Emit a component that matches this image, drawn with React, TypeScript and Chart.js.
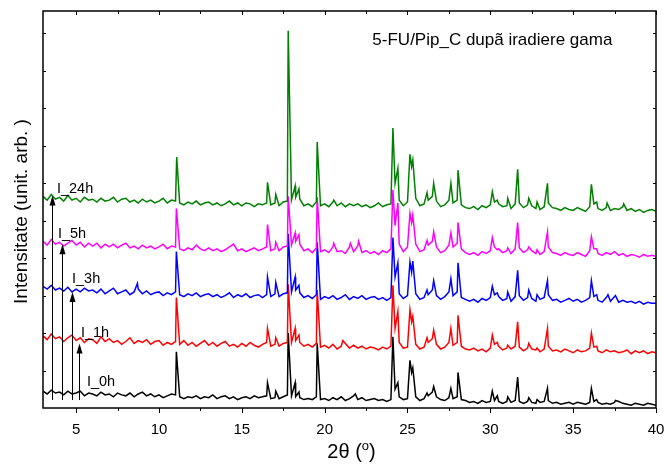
import React, { useEffect, useRef } from "react";
import { Chart, registerables } from "chart.js";

Chart.register(...registerables);

// ---- axis data ----
const angleMin = 3;
const angleMax = 40;
const levelMin = 0;
const levelMax = 424;
const xTickValues = [5, 10, 15, 20, 25, 30, 35, 40];
const xMinorTickValues = [7.5, 12.5, 17.5, 22.5, 27.5, 32.5, 37.5];
const yTickValues = [40, 80, 120, 160, 200, 240, 280, 320, 360, 400];

// baseline samples: 2θ = 3.00, 3.25, ... 40.00 (one row per degree)
const sampleStart = 3;
const sampleStep = 0.25;

const base0h = [
  18, 15, 19, 16,
  17, 14, 18, 15,
  16, 18, 13, 16,
  15, 13, 17, 14,
  15, 12, 16, 14,
  13, 16, 12, 15,
  17, 13, 15, 12,
  14, 11, 13, 15,
  14, 12, 10, 12,
  11, 13, 10, 12,
  11, 14, 10, 12,
  13, 10, 12, 9,
  11, 12, 10, 13,
  11, 12, 13, 10,
  11, 10, 12, 14,
  13, 12, 11, 9,
  10, 9, 12, 9,
  10, 8, 11, 9,
  12, 8, 10, 13,
  9, 11, 8, 9,
  10, 8, 9, 7,
  9, 20, 12, 9,
  10, 38, 12, 8,
  10, 13, 17, 12,
  9, 8, 11, 10,
  12, 9, 8, 6,
  7, 5, 8, 6,
  7, 8, 7, 5,
  7, 6, 8, 7,
  5, 7, 6, 5,
  6, 7, 8, 5,
  6, 4, 5, 6,
  4, 6, 5, 4,
  6, 7, 6, 4,
  5, 4, 6, 7,
  5, 4, 3, 5,
  4, 3, 5, 4,
  3,
];
const peaks0h = [
  [11.05, 60], [16.55, 27], [17.05, 18], [17.8, 80], [18.22, 27], [18.45, 17],
  [19.55, 69], [21.85, 15], [24.12, 76], [24.42, 27], [25.15, 51], [25.32, 43],
  [26.18, 16], [26.58, 23], [27.62, 21], [28.05, 38], [30.12, 18], [30.42, 13],
  [31.05, 12], [31.65, 33], [32.32, 11], [32.82, 9], [33.45, 21], [36.1, 21],
  [36.42, 9], [37.55, 8],
];

const base1h = [
  77, 73, 79, 74,
  76, 71, 75, 78,
  72, 75, 70, 74,
  73, 69, 76, 71,
  74, 70, 72, 68,
  71, 75, 69, 72,
  70, 73, 68, 71,
  72, 67, 70, 68,
  71, 68, 72, 67,
  70, 66, 69, 72,
  67, 70, 66, 69,
  71, 66, 68, 65,
  69, 66, 70, 67,
  65, 68, 70, 66,
  68, 66, 69, 70,
  70, 72, 70, 66,
  68, 65, 69, 65,
  67, 64, 68, 63,
  66, 69, 64, 67,
  64, 66, 63, 65,
  64, 62, 65, 63,
  66, 85, 70, 64,
  65, 92, 68, 63,
  65, 70, 74, 68,
  63, 65, 70, 67,
  70, 66, 63, 62,
  64, 61, 63, 60,
  64, 68, 66, 62,
  64, 63, 66, 65,
  61, 64, 63, 62,
  60, 63, 66, 61,
  62, 60, 63, 61,
  59, 62, 60, 61,
  64, 65, 61, 59,
  62, 60, 61, 59,
  60, 62, 58, 61,
  59, 61, 58, 60,
  59,
];
const peaks1h = [
  [11.05, 118], [16.55, 85], [17.05, 75], [17.8, 132], [18.22, 85], [18.45, 78],
  [19.55, 126], [21.1, 72], [24.12, 131], [24.42, 103], [25.15, 105], [25.32, 98],
  [26.18, 75], [26.58, 83], [27.62, 85], [28.05, 99], [30.12, 78], [30.42, 70],
  [31.05, 67], [31.65, 92], [32.32, 69], [32.82, 64], [33.45, 85], [36.1, 80],
  [36.42, 66],
];

const base3h = [
  130, 127, 131, 126,
  128, 125, 129, 124,
  127, 124, 128, 125,
  126, 123, 127, 122,
  125, 128, 122, 124,
  126, 121, 124, 127,
  122, 125, 121, 123,
  124, 120, 123, 121,
  124, 121, 119, 122,
  120, 123, 119, 121,
  122, 119, 121, 118,
  120, 123, 118, 121,
  119, 122, 118, 120,
  121, 118, 121, 119,
  122, 119, 122, 123,
  124, 126, 123, 118,
  120, 117, 121, 116,
  119, 117, 120, 116,
  118, 121, 116, 119,
  117, 120, 116, 118,
  119, 116, 118, 115,
  118, 140, 122, 117,
  120, 145, 122, 116,
  118, 121, 126, 120,
  116, 119, 124, 120,
  124, 118, 116, 114,
  116, 113, 117, 115,
  118, 121, 119, 115,
  117, 114, 119, 120,
  115, 118, 117, 114,
  116, 118, 121, 115,
  116, 113, 115, 117,
  114, 116, 113, 115,
  118, 119, 115, 113,
  118, 114, 119, 113,
  115, 113, 114, 112,
  114, 111, 113, 112,
  112,
];
const peaks3h = [
  [8.7, 133], [11.05, 167], [16.55, 140], [17.05, 134], [17.8, 186], [18.22, 140],
  [18.45, 131], [19.55, 177], [24.12, 182], [24.42, 155], [25.15, 156], [25.32, 157],
  [26.18, 126], [26.58, 136], [27.62, 138], [28.05, 155], [30.12, 130], [30.42, 123],
  [31.05, 124], [31.65, 147], [32.32, 126], [32.82, 121], [33.45, 136], [36.1, 136],
  [36.42, 121], [37.1, 121], [37.55, 120],
];

const base5h = [
  178, 174, 180, 175,
  177, 173, 176, 179,
  174, 177, 172, 176,
  173, 176, 171, 175,
  172, 175, 171, 174,
  176, 171, 173, 170,
  174, 171, 173, 170,
  172, 175, 170, 173,
  172, 170, 168, 171,
  169, 174, 170, 168,
  171, 168, 170, 167,
  169, 172, 175, 168,
  170, 167, 169, 171,
  168, 170, 172, 168,
  170, 168, 172, 173,
  174, 178, 175, 168,
  170, 166, 171, 167,
  169, 166, 172, 167,
  168, 165, 172, 167,
  173, 166, 168, 165,
  167, 164, 168, 166,
  170, 195, 175, 167,
  172, 198, 175, 167,
  169, 174, 178, 172,
  166, 168, 174, 172,
  176, 170, 166, 164,
  166, 163, 167, 165,
  168, 172, 170, 166,
  168, 165, 170, 171,
  166, 169, 168, 165,
  164, 167, 172, 166,
  165, 163, 166, 164,
  163, 166, 164, 162,
  168, 170, 165, 163,
  166, 164, 167, 163,
  165, 162, 164, 163,
  161, 164, 162, 163,
  162,
];
const peaks5h = [
  [11.05, 213], [16.55, 196], [17.05, 177], [17.8, 226], [18.22, 187], [18.45, 185],
  [19.55, 225], [20.55, 176], [21.55, 176], [22.05, 178], [24.12, 233], [24.42, 219],
  [25.15, 208], [25.32, 206], [26.18, 179], [26.58, 188], [27.62, 187], [28.05, 198],
  [30.12, 182], [30.42, 169], [31.05, 171], [31.65, 198], [32.32, 172], [32.82, 169],
  [33.45, 188], [36.1, 183], [36.42, 170],
];

const base24h = [
  226, 222, 228, 223,
  225, 221, 227, 222,
  224, 220, 225, 222,
  223, 220, 224, 221,
  222, 225, 220, 223,
  224, 220, 222, 219,
  223, 220, 222, 219,
  221, 224, 219, 222,
  221, 219, 217, 220,
  218, 221, 217, 219,
  220, 217, 219, 216,
  218, 221, 217, 219,
  216, 219, 218, 215,
  218, 217, 219, 217,
  219, 216, 220, 221,
  222, 225, 223, 216,
  218, 215, 220, 216,
  218, 215, 220, 216,
  219, 215, 218, 216,
  218, 215, 217, 214,
  216, 219, 215, 217,
  218, 240, 222, 216,
  220, 258, 224, 216,
  218, 222, 226, 221,
  215, 217, 222, 219,
  222, 217, 214, 213,
  215, 212, 216, 214,
  217, 220, 218, 215,
  216, 213, 218, 219,
  214, 217, 216, 213,
  212, 215, 219, 214,
  213, 211, 214, 212,
  211, 214, 212, 210,
  215, 218, 213, 211,
  214, 211, 213, 212,
  215, 211, 213, 210,
  212, 209, 211, 212,
  210,
];
const peaks24h = [
  [11.07, 268], [16.55, 241], [17.05, 228], [17.8, 403], [18.22, 237], [18.45, 234],
  [19.55, 284], [20.55, 222], [24.12, 299], [24.42, 256], [25.15, 271], [25.32, 265],
  [26.18, 230], [26.58, 240], [27.62, 240], [28.05, 254], [30.12, 231], [30.42, 222],
  [31.05, 224], [31.65, 255], [32.32, 224], [32.82, 220], [33.45, 240], [36.1, 239],
  [36.42, 220], [37.05, 219], [38.05, 218],
];

// ---- annotations (data units) ----
const traceNames = ["I_0h", "I_1h", "I_3h", "I_5h", "I_24h"];
const nameAngles = [5.65, 5.29, 4.75, 3.9, 3.84];
const nameLevels = [23.5, 75.8, 133.5, 181.6, 229.6];
const arrowAngles = [5.19, 4.77, 4.16, 3.56];
const arrowTipLevels = [69, 124, 175, 227];
const arrowFootLevel = 8.5;
const titleText = "5-FU/Pip_C dupã iradiere gama";
const titleAngle = 22.88;
const titleLevel = 387.7;

const FONT = "'Liberation Sans', Arial, Helvetica, sans-serif";

function buildTrace(base: number[], peaks: number[][]) {
  const pts = base.map((v, i) => ({ x: sampleStart + i * sampleStep, y: v }));
  peaks.forEach(([x, y]) => pts.push({ x, y }));
  pts.sort((a, b) => a.x - b.x);
  return pts;
}

const overlayPlugin = {
  id: "overlay",
  afterDatasetsDraw(chart: any) {
    const { ctx, chartArea: a, scales } = chart;
    const xs = scales.x;
    const ys = scales.y;
    ctx.save();
    ctx.strokeStyle = "#000";
    ctx.fillStyle = "#000";

    // ticks
    ctx.lineWidth = 1;
    xTickValues.forEach((v) => {
      const px = Math.round(xs.getPixelForValue(v)) + 0.5;
      ctx.beginPath();
      ctx.moveTo(px, a.bottom);
      ctx.lineTo(px, a.bottom + 5);
      ctx.moveTo(px, a.top);
      ctx.lineTo(px, a.top + 4);
      ctx.stroke();
    });
    xMinorTickValues.forEach((v) => {
      const px = Math.round(xs.getPixelForValue(v)) + 0.5;
      ctx.beginPath();
      ctx.moveTo(px, a.bottom);
      ctx.lineTo(px, a.bottom + 3);
      ctx.moveTo(px, a.top);
      ctx.lineTo(px, a.top + 3);
      ctx.stroke();
    });
    yTickValues.forEach((v) => {
      const py = Math.round(ys.getPixelForValue(v)) + 0.5;
      ctx.beginPath();
      ctx.moveTo(a.left, py);
      ctx.lineTo(a.left + 3, py);
      ctx.moveTo(a.right, py);
      ctx.lineTo(a.right - 3, py);
      ctx.stroke();
    });

    // frame
    ctx.lineWidth = 1.5;
    ctx.strokeRect(a.left, a.top, a.right - a.left, a.bottom - a.top);

    // tick labels
    ctx.font = `15px ${FONT}`;
    ctx.textAlign = "center";
    ctx.textBaseline = "alphabetic";
    xTickValues.forEach((v) => {
      ctx.fillText(String(v), xs.getPixelForValue(v), a.bottom + 26);
    });

    // x title: 2θ (°)
    ctx.font = `20px ${FONT}`;
    const part1 = "2θ (";
    const part3 = ")";
    const w1 = ctx.measureText(part1).width;
    const w3 = ctx.measureText(part3).width;
    ctx.font = `13px ${FONT}`;
    const w2 = ctx.measureText("o").width;
    const total = w1 + w2 + w3;
    const cx = (a.left + a.right) / 2 + 2;
    let sx = cx - total / 2;
    const by = a.bottom + 50;
    ctx.textAlign = "left";
    ctx.font = `20px ${FONT}`;
    ctx.fillText(part1, sx, by);
    sx += w1;
    ctx.font = `13px ${FONT}`;
    ctx.fillText("o", sx, by - 8);
    sx += w2;
    ctx.font = `20px ${FONT}`;
    ctx.fillText(part3, sx, by);

    // y title
    ctx.save();
    ctx.translate(27, (a.top + a.bottom) / 2 + 2);
    ctx.rotate(-Math.PI / 2);
    ctx.textAlign = "center";
    ctx.font = `19px ${FONT}`;
    ctx.fillText("Intensitate (unit. arb. )", 0, 0);
    ctx.restore();

    // plot title
    ctx.font = `17px ${FONT}`;
    ctx.textAlign = "left";
    ctx.fillText(titleText, xs.getPixelForValue(titleAngle), ys.getPixelForValue(titleLevel));

    // arrows
    ctx.lineWidth = 1;
    arrowAngles.forEach((ang, i) => {
      const px = Math.round(xs.getPixelForValue(ang)) + 0.5;
      const tip = ys.getPixelForValue(arrowTipLevels[i]);
      const foot = ys.getPixelForValue(arrowFootLevel);
      ctx.beginPath();
      ctx.moveTo(px, foot);
      ctx.lineTo(px, tip + 8);
      ctx.stroke();
      ctx.beginPath();
      ctx.moveTo(px, tip);
      ctx.lineTo(px - 3, tip + 10);
      ctx.lineTo(px + 3, tip + 10);
      ctx.closePath();
      ctx.fill();
    });

    // trace names
    ctx.font = `14.5px ${FONT}`;
    ctx.textAlign = "left";
    traceNames.forEach((name, i) => {
      ctx.fillText(name, xs.getPixelForValue(nameAngles[i]), ys.getPixelForValue(nameLevels[i]));
    });

    ctx.restore();
  },
};

export default function App() {
  const canvasRef = useRef<HTMLCanvasElement | null>(null);

  useEffect(() => {
    const canvas = canvasRef.current;
    if (!canvas) return;
    const traces = [
      { label: "I_24h", base: base24h, peaks: peaks24h, color: "#008000" },
      { label: "I_5h", base: base5h, peaks: peaks5h, color: "#ff00ff" },
      { label: "I_3h", base: base3h, peaks: peaks3h, color: "#0000ff" },
      { label: "I_1h", base: base1h, peaks: peaks1h, color: "#ff0000" },
      { label: "I_0h", base: base0h, peaks: peaks0h, color: "#000000" },
    ];
    const chart = new Chart(canvas, {
      type: "line",
      data: {
        datasets: traces.map((t) => ({
          label: t.label,
          data: buildTrace(t.base, t.peaks),
          borderColor: t.color,
          backgroundColor: t.color,
          borderWidth: 1.5,
          pointRadius: 0,
          tension: 0,
          fill: false,
        })),
      },
      options: {
        responsive: false,
        animation: false,
        devicePixelRatio: 1,
        layout: { padding: { left: 43, top: 11, right: 9, bottom: 57 } },
        plugins: { legend: { display: false }, tooltip: { enabled: false }, title: { display: false } },
        scales: {
          x: { type: "linear", min: angleMin, max: angleMax, display: false },
          y: { type: "linear", min: levelMin, max: levelMax, display: false },
        },
      },
      plugins: [overlayPlugin],
    });
    return () => chart.destroy();
  }, []);

  return (
    <div style={{ position: "fixed", left: 0, top: 0, width: 665, height: 465, background: "#fff" }}>
      <canvas ref={canvasRef} width={665} height={465} style={{ display: "block" }} />
    </div>
  );
}
